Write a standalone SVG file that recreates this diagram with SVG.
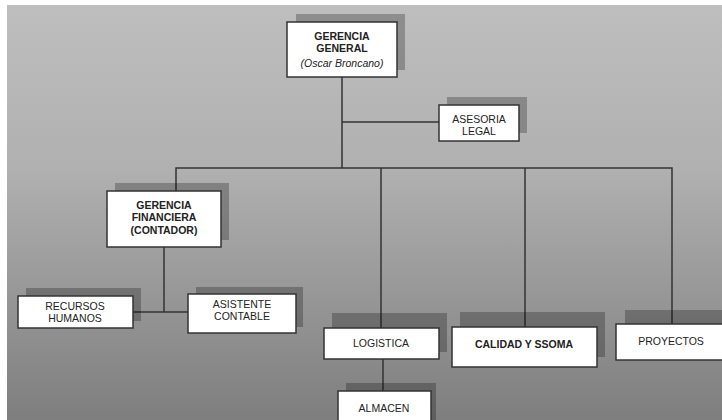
<svg xmlns="http://www.w3.org/2000/svg" width="722" height="420" viewBox="0 0 722 420">
  <defs>
    <linearGradient id="bg" x1="0" y1="0" x2="0" y2="1">
      <stop offset="0" stop-color="#bebebe"/>
      <stop offset="0.4" stop-color="#b0b0b0"/>
      <stop offset="1" stop-color="#7e7e7e"/>
    </linearGradient>
    <style>
      .shadow { fill: #000; fill-opacity: 0.25; }
      .box { fill: #fff; stroke: #333; stroke-width: 1.5; }
      .line { fill: none; stroke: #333; stroke-width: 1.5; }
      text { font-family: "Liberation Sans", Arial, sans-serif; font-size: 10.5px; fill: #222; text-anchor: middle; }
      .b { font-weight: bold; }
      .i { font-style: italic; }
    </style>
  </defs>

  <rect x="0" y="0" width="722" height="420" fill="#fff"/>
  <rect x="7" y="5" width="715" height="415" fill="url(#bg)"/>

  <!-- connectors -->
  <g id="connectors">
    <path class="line" d="M342 77 V168"/>
    <path class="line" d="M342 122 H439"/>
    <path class="line" d="M176 191 V168 H672 V324"/>
    <path class="line" d="M381 168 V328"/>
    <path class="line" d="M525 168 V327"/>
    <path class="line" d="M164 247 V312"/>
    <path class="line" d="M133 312 H188"/>
    <path class="line" d="M383 359 V391"/>
  </g>

  <g id="gerencia-general">
    <rect class="shadow" x="296" y="14" width="109" height="56"/>
    <rect class="box" x="287" y="22" width="110" height="55"/>
    <text class="b" x="342" y="40">GERENCIA</text>
    <text class="b" x="342" y="52">GENERAL</text>
    <text class="i" x="342" y="67">(Oscar Broncano)</text>
  </g>

  <g id="asesoria-legal">
    <rect class="shadow" x="447" y="97" width="80" height="36"/>
    <rect class="box" x="439" y="105" width="80" height="36"/>
    <text x="479" y="123">ASESORIA</text>
    <text x="479" y="135">LEGAL</text>
  </g>

  <g id="gerencia-financiera">
    <rect class="shadow" x="115" y="183" width="114" height="57"/>
    <rect class="box" x="107" y="191" width="114" height="56"/>
    <text class="b" x="164" y="209">GERENCIA</text>
    <text class="b" x="164" y="221">FINANCIERA</text>
    <text class="b" x="164" y="234">(CONTADOR)</text>
  </g>

  <g id="recursos-humanos">
    <rect class="shadow" x="26" y="288" width="115" height="33"/>
    <rect class="box" x="18" y="296" width="115" height="32"/>
    <text x="75" y="310">RECURSOS</text>
    <text x="75" y="322">HUMANOS</text>
  </g>

  <g id="asistente-contable">
    <rect class="shadow" x="196" y="287" width="107" height="40"/>
    <rect class="box" x="188" y="294" width="108" height="39"/>
    <text x="242" y="308">ASISTENTE</text>
    <text x="242" y="320">CONTABLE</text>
  </g>

  <g id="logistica">
    <rect class="shadow" x="332" y="313" width="115" height="39"/>
    <rect class="box" x="324" y="328" width="115" height="31"/>
    <text x="381" y="347">LOGISTICA</text>
  </g>

  <g id="calidad-ssoma">
    <rect class="shadow" x="460" y="312" width="145" height="45"/>
    <rect class="box" x="452" y="327" width="145" height="40"/>
    <text class="b" x="524" y="348">CALIDAD Y SSOMA</text>
  </g>

  <g id="proyectos">
    <rect class="shadow" x="625" y="310" width="110" height="42"/>
    <rect class="box" x="616" y="324" width="112" height="36"/>
    <text x="671" y="345">PROYECTOS</text>
  </g>

  <g id="almacen">
    <rect class="shadow" x="346" y="383" width="90" height="45"/>
    <rect class="box" x="338" y="391" width="93" height="40"/>
    <text x="384" y="412">ALMACEN</text>
  </g>
</svg>
